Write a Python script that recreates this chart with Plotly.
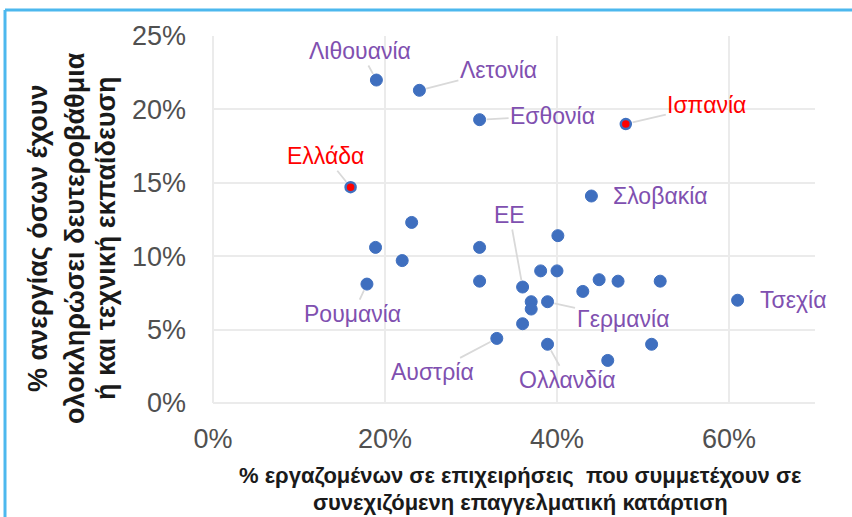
import plotly.graph_objects as go

# ---------------- data ----------------
countries = ["Λιθουανία", "Λετονία", "Εσθονία", "Ισπανία", "Ελλάδα", "Σλοβακία",
             "", "", "", "", "", "Ρουμανία", "", "", "", "ΕΕ", "", "",
             "Γερμανία", "", "Αυστρία", "Ολλανδία", "", "", "", "", "", "", "Τσεχία"]
training_pct = [19.0, 24.0, 31.0, 48.0, 16.0, 44.0,
                23.1, 18.9, 31.0, 22.0, 40.1, 17.9, 31.0, 38.1, 40.0, 36.0, 37.0, 37.0,
                38.9, 36.0, 33.0, 38.9, 43.0, 44.9, 47.1, 52.0, 45.9, 51.0, 61.0]
unemployment_pct = [22.0, 21.3, 19.3, 19.0, 14.7, 14.1,
                    12.3, 10.6, 10.6, 9.7, 11.4, 8.1, 8.3, 9.0, 9.0, 7.9, 6.9, 6.4,
                    6.9, 5.4, 4.4, 4.0, 7.6, 8.4, 8.3, 8.3, 2.9, 4.0, 7.0]
highlighted = ["Ελλάδα", "Ισπανία"]

x_ticks = [0, 0.2, 0.4, 0.6]
y_ticks = [0, 0.05, 0.10, 0.15, 0.20, 0.25]

x_title_lines = ["% εργαζομένων σε επιχειρήσεις  που συμμετέχουν σε",
                 "συνεχιζόμενη επαγγελματική κατάρτιση"]
y_title_lines = ["% ανεργίας όσων έχουν",
                 "ολοκληρώσει δευτεροβάθμια",
                 "ή και τεχνική εκπαίδευση"]

# ---------------- styles ----------------
FONT = "Liberation Sans, Arial, sans-serif"
BLUE = "#3f6fbf"
RED = "#ff0000"
PURPLE = "#8050b0"
LEADER = "#d9d9d9"

# label offsets in pixels (ax, ay) relative to the point; None -> label placed to the right
label_offsets = {
    "Λιθουανία": (-16, -29),
    "Λετονία": (79, -20),
    "Εσθονία": (73, -4),
    "Ισπανία": (81, -19),
    "Ελλάδα": (-25, -31),
    "Σλοβακία": None,
    "ΕΕ": (-13, -72),
    "Ρουμανία": (-14, 30),
    "Γερμανία": (75, 17),
    "Αυστρία": (-64, 34),
    "Ολλανδία": (20, 36),
    "Τσεχία": None,
}

xs = [v / 100 for v in training_pct]
ys = [v / 100 for v in unemployment_pct]

is_hl = [c in highlighted for c in countries]
fill = [RED if h else BLUE for h in is_hl]
sizes = [10 if h else 12 for h in is_hl]
lw = [2.5 if h else 1 for h in is_hl]

fig = go.Figure()
fig.add_trace(go.Scatter(
    x=xs, y=ys, mode="markers",
    marker=dict(size=sizes, color=fill, opacity=1, line=dict(color=BLUE, width=lw)),
    hoverinfo="skip", showlegend=False,
))

annotations = []
for c, xv, yv in zip(countries, xs, ys):
    if not c:
        continue
    col = RED if c in highlighted else PURPLE
    off = label_offsets.get(c)
    if off is None:
        annotations.append(dict(
            x=xv, y=yv, xref="x", yref="y", text=c, showarrow=False,
            xanchor="left", xshift=20,
            font=dict(family=FONT, size=23, color=col)))
    else:
        annotations.append(dict(
            x=xv, y=yv, xref="x", yref="y", text=c, showarrow=True,
            ax=off[0], ay=off[1], arrowhead=0, arrowwidth=1.8,
            arrowcolor=LEADER, standoff=7,
            font=dict(family=FONT, size=23, color=col)))

# axis titles (one annotation per line)
for txt, yp in zip(x_title_lines, [-0.1989, -0.2698]):
    annotations.append(dict(
        x=0.5116, y=yp, xref="paper", yref="paper", text=txt, showarrow=False,
        xanchor="center", yanchor="middle",
        font=dict(family=FONT, size=22, color="#1a1a1a", weight="bold")))
for txt, xp in zip(y_title_lines, [-0.2907, -0.2292, -0.1777]):
    annotations.append(dict(
        x=xp, y=0.4496, xref="paper", yref="paper", text=txt, showarrow=False,
        textangle=-90, xanchor="center", yanchor="middle",
        font=dict(family=FONT, size=27, color="#1a1a1a", weight="bold")))

# blue frame (top and left edges)
shapes = [
    dict(type="line", xref="paper", yref="paper", x0=-0.3455, x1=1.08, y0=1.0708, y1=1.0708,
         line=dict(color="#4db8ee", width=3)),
    dict(type="line", xref="paper", yref="paper", x0=-0.3455, x1=-0.3455, y0=1.0708, y1=-0.35,
         line=dict(color="#4db8ee", width=3)),
]

fig.update_layout(
    width=852, height=517,
    margin=dict(l=213, r=37, t=36, b=114),
    paper_bgcolor="white", plot_bgcolor="white",
    annotations=annotations, shapes=shapes,
    font=dict(family=FONT),
    hovermode=False,
)
fig.update_xaxes(
    range=[0, 0.7], tickvals=x_ticks, tickformat=".0%",
    showgrid=True, gridcolor="#ebebeb", gridwidth=2,
    zeroline=True, zerolinecolor="#ebebeb", zerolinewidth=2,
    showline=False, ticks="", ticklabelstandoff=17,
    tickfont=dict(family=FONT, size=27, color="#505050"),
)
fig.update_yaxes(
    range=[0, 0.25], tickvals=y_ticks, tickformat=".0%",
    showgrid=True, gridcolor="#ebebeb", gridwidth=2,
    zeroline=True, zerolinecolor="#ebebeb", zerolinewidth=2,
    showline=False, ticks="", ticklabelstandoff=26,
    tickfont=dict(family=FONT, size=27, color="#505050"),
)

fig.write_html("out.html", config={"displayModeBar": False},
               post_script="document.body.style.margin='0px';")
